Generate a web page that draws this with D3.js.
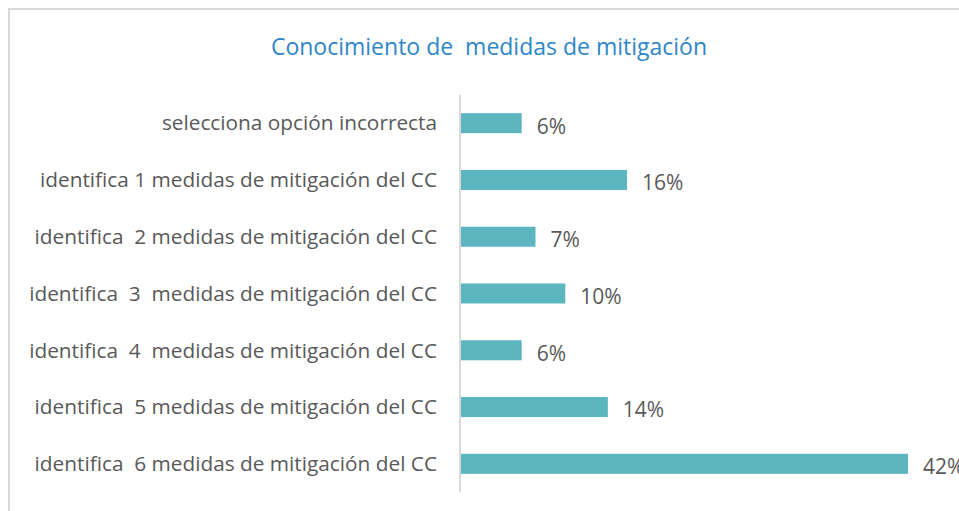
<!DOCTYPE html>
<html>
<head>
<meta charset="utf-8">
<script src="https://cdn.jsdelivr.net/npm/d3@7"></script>
<style>
  html, body { margin: 0; padding: 0; background: #fff; }
  svg { display: block; }
</style>
</head>
<body>
<div id="chart"></div>
<script>
(() => {
  'use strict';

  const title = 'Conocimiento de  medidas de mitigación';

  const categories = [
    'selecciona opción incorrecta',
    'identifica 1 medidas de mitigación del CC',
    'identifica  2 medidas de mitigación del CC',
    'identifica  3  medidas de mitigación del CC',
    'identifica  4  medidas de mitigación del CC',
    'identifica  5 medidas de mitigación del CC',
    'identifica  6 medidas de mitigación del CC',
  ];

  // percentages
  const values = [5.7, 15.6, 7.0, 9.8, 5.7, 13.8, 42.0];

  const width = 959;
  const height = 511;
  const font = '"Open Sans", sans-serif';

  const svg = d3.select('#chart').append('svg')
    .attr('width', width)
    .attr('height', height);

  // chart frame (only top/left edges visible in the crop)
  svg.append('rect')
    .attr('x', 9).attr('y', 9)
    .attr('width', width + 20).attr('height', height + 20)
    .attr('fill', '#fff')
    .attr('stroke', '#d9d9d9')
    .attr('stroke-width', 2);

  svg.append('text')
    .attr('x', 489).attr('y', 55)
    .attr('text-anchor', 'middle')
    .style('white-space', 'pre')
    .attr('font-family', font)
    .attr('font-size', 23)
    .attr('fill', '#2e86c8')
    .text(title);

  const x = d3.scaleLinear().domain([0, 42]).range([461, 908]);
  const y = d3.scaleBand()
    .domain(categories)
    .range([95, 492])
    .paddingInner(0.647)
    .paddingOuter(0.32);

  // vertical category axis line
  svg.append('line')
    .attr('x1', 460).attr('x2', 460)
    .attr('y1', y.range()[0]).attr('y2', y.range()[1])
    .attr('stroke', '#d9d9d9')
    .attr('stroke-width', 2);

  svg.append('g').selectAll('rect')
    .data(values)
    .join('rect')
    .attr('x', x(0))
    .attr('y', (d, i) => y(categories[i]))
    .attr('width', d => x(d) - x(0))
    .attr('height', y.bandwidth())
    .attr('fill', '#5bb6c0');

  svg.append('g').selectAll('text')
    .data(categories)
    .join('text')
    .attr('x', 437)
    .attr('y', d => y(d) + y.bandwidth() / 2)
    .attr('dy', '0.35em')
    .attr('text-anchor', 'end')
    .style('white-space', 'pre')
    .attr('font-family', font)
    .attr('font-size', 20.8)
    .attr('fill', '#595959')
    .text(d => d);

  svg.append('g').selectAll('text')
    .data(values)
    .join('text')
    .attr('x', d => x(d) + 15)
    .attr('y', (d, i) => y(categories[i]) + y.bandwidth() / 2 + 3)
    .attr('dy', '0.35em')
    .attr('font-family', font)
    .attr('font-size', 21)
    .attr('fill', '#595959')
    .text(d => `${Math.round(d)}%`);
})();
</script>
</body>
</html>
